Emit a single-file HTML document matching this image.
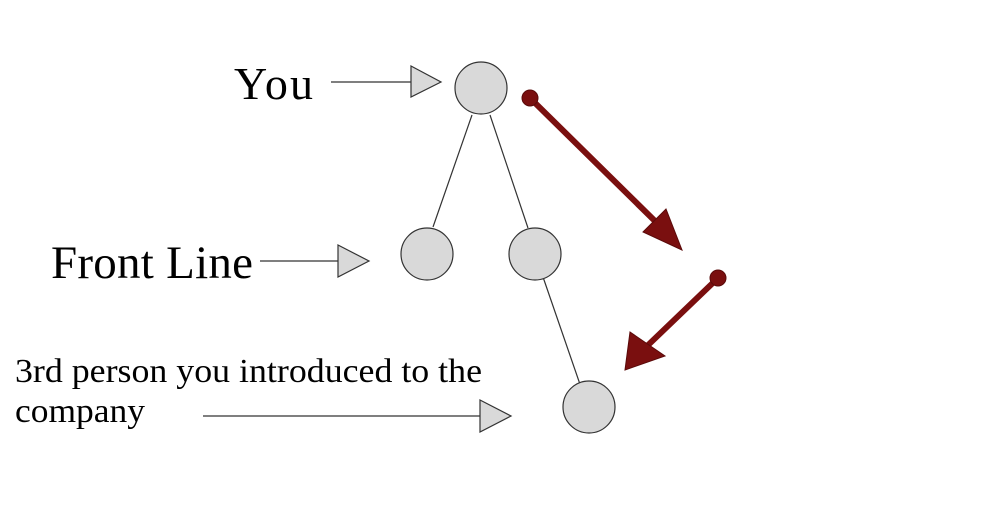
<!DOCTYPE html>
<html><head><style>html,body{margin:0;padding:0;background:#fff;}svg{display:block}</style></head>
<body>
<svg width="993" height="516" xmlns="http://www.w3.org/2000/svg">
<g font-family="'Liberation Serif', serif" fill="#000">
<text x="234" y="99" font-size="46" textLength="79">You</text>
<text x="51" y="278" font-size="47" textLength="202">Front Line</text>
<text x="15" y="382" font-size="34" textLength="467" lengthAdjust="spacingAndGlyphs">3rd person you introduced to the</text>
<text x="15" y="422" font-size="34" textLength="130" lengthAdjust="spacingAndGlyphs">company</text>
</g>
<g stroke="#333" stroke-width="1.2" fill="#d9d9d9">
<line x1="331" y1="82" x2="411" y2="82"/>
<polygon points="411,66 441,82 411,97"/>
<line x1="260" y1="261" x2="338" y2="261"/>
<polygon points="338,245 369,261 338,277"/>
<line x1="203" y1="416" x2="480" y2="416"/>
<polygon points="480,400 511,416 480,432"/>
<line x1="472" y1="115" x2="433" y2="227"/>
<line x1="490" y1="115" x2="528" y2="228"/>
<line x1="543" y1="277" x2="583" y2="393"/>
<circle cx="481" cy="88" r="26"/>
<circle cx="427" cy="254" r="26"/>
<circle cx="535" cy="254" r="26"/>
<circle cx="589" cy="407" r="26"/>
</g>
<g fill="#7a0f0f" stroke="#5a0a0a" stroke-width="1">
<line x1="530" y1="98" x2="658" y2="224" stroke="#7a0f0f" stroke-width="6"/>
<circle cx="530" cy="98" r="8"/>
<polygon points="682,250 643,232 666,209"/>
<line x1="718" y1="278" x2="645" y2="348" stroke="#7a0f0f" stroke-width="6"/>
<circle cx="718" cy="278" r="8"/>
<polygon points="625,370 630,332 665,356"/>
</g>
</svg>
</body></html>
